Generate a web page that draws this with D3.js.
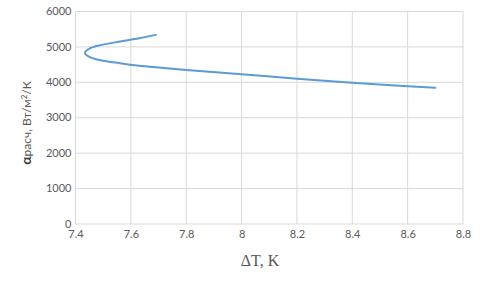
<!DOCTYPE html>
<html>
<head>
<meta charset="utf-8">
<script src="https://cdn.jsdelivr.net/npm/d3@7"></script>
<style>
  body { margin: 0; background: #fff; }
  svg { display: block; }
</style>
</head>
<body>
<div id="chart"></div>
<script>
// Curve points (goes left, turns, then runs right)
const deltaT = [7.69, 7.63, 7.56, 7.49, 7.45, 7.434, 7.45, 7.49, 7.56, 7.63, 7.70, 7.80, 8.00, 8.20, 8.40, 8.60, 8.70];
const alpha  = [5340, 5245, 5150, 5050, 4950, 4830, 4720, 4625, 4540, 4470, 4420, 4350, 4230, 4100, 3985, 3890, 3845];
const xTicks = [7.4, 7.6, 7.8, 8, 8.2, 8.4, 8.6, 8.8];
const yTicks = [0, 1000, 2000, 3000, 4000, 5000, 6000];

const width = 480, height = 288;
const margin = {left: 75.5, right: 17, top: 11.5, bottom: 64};

const svg = d3.select("#chart").append("svg")
    .attr("width", width)
    .attr("height", height);

const x = d3.scaleLinear().domain([7.4, 8.8]).range([margin.left, width - margin.right]);
const y = d3.scaleLinear().domain([0, 6000]).range([height - margin.bottom, margin.top]);

//Gridlines
svg.append("g").selectAll("line").data(yTicks).join("line")
    .attr("x1", x(7.4)).attr("x2", x(8.8))
    .attr("y1", d => y(d)).attr("y2", d => y(d))
    .attr("stroke", "#d9d9d9").attr("stroke-width", 1);

svg.append("g").selectAll("line").data(xTicks).join("line")
    .attr("x1", d => x(d)).attr("x2", d => x(d))
    .attr("y1", y(0)).attr("y2", y(6000))
    .attr("stroke", "#d9d9d9").attr("stroke-width", 1);

//Axes, only labels
const xAxis = svg.append("g")
    .attr("transform", `translate(0,${y(0)})`)
    .call(d3.axisBottom(x).tickValues(xTicks).tickSize(0).tickPadding(6).tickFormat(d3.format("")));
const yAxis = svg.append("g")
    .attr("transform", `translate(${x(7.4)},0)`)
    .call(d3.axisLeft(y).tickValues(yTicks).tickSize(0).tickPadding(4).tickFormat(d3.format("d")));

[xAxis, yAxis].forEach(a => {
    a.select(".domain").remove();
    a.selectAll("text")
        .attr("fill", "#595959")
        .style("font-family", "Lato, 'Open Sans', sans-serif")
        .style("font-size", "11px");
});
yAxis.selectAll("text").attr("dy", "0.28em");

//The curve
const pts = deltaT.map((d, i) => [d, alpha[i]]);
const line = d3.line()
    .x(d => x(d[0]))
    .y(d => y(d[1]))
    .curve(d3.curveCatmullRom.alpha(0.5));

svg.append("path")
    .datum(pts)
    .attr("fill", "none")
    .attr("stroke", "#5b9bd5")
    .attr("stroke-width", 2)
    .attr("stroke-linecap", "round")
    .attr("d", line);

//Axis titles
svg.append("text")
    .attr("x", 260)
    .attr("y", 266)
    .attr("text-anchor", "middle")
    .attr("fill", "#595959")
    .style("font-family", "'Liberation Serif', 'DejaVu Serif', serif")
    .style("font-size", "16px")
    .text("ΔT, K");

const yt = svg.append("text")
    .attr("transform", "translate(31,123) rotate(-90)")
    .attr("text-anchor", "middle")
    .attr("fill", "#595959")
    .style("font-family", "Lato, 'Open Sans', sans-serif")
    .style("font-size", "12px");
yt.append("tspan").attr("font-weight", "bold").style("font-size", "14px").attr("fill", "#404040").text("α");
yt.append("tspan").text("расч, Вт/м");
yt.append("tspan").attr("dy", -4).style("font-size", "8px").text("2");
yt.append("tspan").attr("dy", 4).text("/К");
</script>
</body>
</html>
